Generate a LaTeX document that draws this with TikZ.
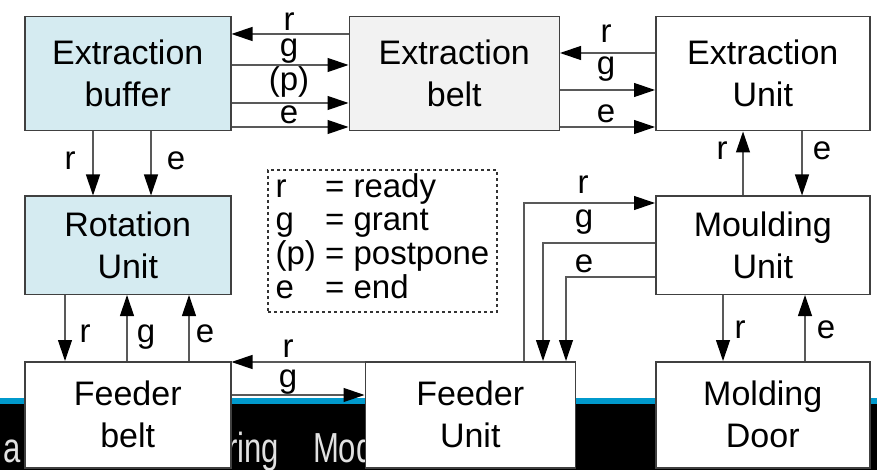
\documentclass[tikz,border=0pt]{standalone}
\usepackage{fontspec}
\setmainfont{Liberation Sans}
\usetikzlibrary{positioning,arrows.meta}
\usepackage{xcolor}
\definecolor{bufblue}{RGB}{213,235,241}
\definecolor{beltgray}{RGB}{242,242,242}
\definecolor{bandblue}{RGB}{0,153,204}
\definecolor{bandgray}{RGB}{225,225,225}

\begin{document}
\begin{tikzpicture}[
  x=1pt, y=-1pt,
  node distance=64pt and 117pt,
  blockbox/.style={rectangle, draw=black!75, line width=1.5pt, fill=white,
                   align=center, minimum width=206pt, minimum height=114pt,
                   inner sep=0pt, font=\fontsize{34}{42}\selectfont},
  arr/.style={-{Triangle[length=21pt,width=14pt,color=black]}, draw=black!65, line width=1.2pt},
  lbl/.style={anchor=base, inner sep=0pt, font=\fontsize{33}{33}\selectfont},
  keybox/.style={draw=black!80, dashed, line width=1.2pt, minimum width=229pt,
                 minimum height=142pt, inner sep=0pt, font=\fontsize{33}{33}\selectfont},
  bandtxt/.style={anchor=base west, inner sep=0pt, text=bandgray, font=\fontsize{42}{42}\selectfont}
]
\useasboundingbox (0,0) rectangle (877,470);
% slide band behind the lower row
\fill[black] (0,404) rectangle (877,470);
\fill[bandblue] (0,397.5) rectangle (877,404);
\node[bandtxt] (banda) at (3,462) {\scalebox{0.74}[1]{a}};
\node[bandtxt] (bandb) at (227,462) {\scalebox{0.74}[1]{ring\hspace{46pt}Mod}};

% blocks
\node[blockbox, fill=bufblue, anchor=north west] (xbuf) at (24,16) {Extraction\\buffer};
\node[blockbox, fill=beltgray, minimum width=210pt, right=117pt of xbuf] (xbelt) {Extraction\\belt};
\node[blockbox, minimum width=214pt, right=95pt of xbelt] (xunit) {Extraction\\Unit};
\node[blockbox, fill=bufblue, minimum height=98pt, below=64pt of xbuf] (rot) {Rotation\\Unit};
\node[blockbox, minimum width=214pt, minimum height=98pt, below=64pt of xunit] (mould) {Moulding\\Unit};
\node[blockbox, minimum height=106pt, below=66pt of rot] (fbelt) {Feeder\\belt};
\node[blockbox, minimum width=210pt, minimum height=106pt, right=133pt of fbelt] (funit) {Feeder\\Unit};
\node[blockbox, minimum width=214pt, minimum height=106pt, below=66pt of mould] (door) {Molding\\Door};

% extraction buffer <-> extraction belt
\draw[arr] (xbelt.west |- 0,34) -- (xbuf.east |- 0,34);
\draw[arr] (xbuf.east |- 0,65) -- (xbelt.west |- 0,65);
\draw[arr] (xbuf.east |- 0,103) -- (xbelt.west |- 0,103);
\draw[arr] (xbuf.east |- 0,127) -- (xbelt.west |- 0,127);
\node[lbl] (bbr) at (289,31) {r};
\node[lbl] (bbg) at (289,57) {g};
\node[lbl] (bbp) at (289,91) {(p)};
\node[lbl] (bbe) at (289,124) {e};

% extraction belt <-> extraction unit
\draw[arr] (xunit.west |- 0,53) -- (xbelt.east |- 0,53);
\draw[arr] (xbelt.east |- 0,90) -- (xunit.west |- 0,90);
\draw[arr] (xbelt.east |- 0,127) -- (xunit.west |- 0,127);
\node[lbl] (bur) at (606,43) {r};
\node[lbl] (bug) at (606,75) {g};
\node[lbl] (bue) at (606,123) {e};

% extraction buffer -> rotation unit
\draw[arr] (xbuf.south -| 93,0) -- (rot.north -| 93,0);
\draw[arr] (xbuf.south -| 151,0) -- (rot.north -| 151,0);
\node[lbl] (brr) at (70,170) {r};
\node[lbl] (bre) at (176,170) {e};

% rotation unit <-> feeder belt
\draw[arr] (rot.south -| 65,0) -- (fbelt.north -| 65,0);
\draw[arr] (fbelt.north -| 127,0) -- (rot.south -| 127,0);
\draw[arr] (fbelt.north -| 189,0) -- (rot.south -| 189,0);
\node[lbl] (rfr) at (85,342) {r};
\node[lbl] (rfg) at (146,342) {g};
\node[lbl] (rfe) at (205,342) {e};

% feeder belt <-> feeder unit
\draw[arr] (funit.west |- 0,362) -- (fbelt.east |- 0,362);
\draw[arr] (fbelt.east |- 0,395) -- (funit.west |- 0,395);
\node[lbl] (ffr) at (288,357) {r};
\node[lbl] (ffg) at (288,387) {g};

% extraction unit <-> moulding unit
\draw[arr] (mould.north -| 743,0) -- (xunit.south -| 743,0);
\draw[arr] (xunit.south -| 802,0) -- (mould.north -| 802,0);
\node[lbl] (umr) at (722,160) {r};
\node[lbl] (ume) at (822,160) {e};

% moulding unit <-> molding door
\draw[arr] (mould.south -| 723,0) -- (door.north -| 723,0);
\draw[arr] (door.north -| 805,0) -- (mould.south -| 805,0);
\node[lbl] (mdr) at (740,338) {r};
\node[lbl] (mde) at (826,338) {e};

% feeder unit <-> moulding unit
\draw[arr] (funit.north -| 524,0) |- (mould.west |- 0,203);
\draw[arr] (mould.west |- 0,243) -| (funit.north -| 543,0);
\draw[arr] (mould.west |- 0,277) -| (funit.north -| 566,0);
\node[lbl] (fmr) at (583,194) {r};
\node[lbl] (fmg) at (584,228) {g};
\node[lbl] (fme) at (584,272) {e};

% legend
\node[keybox] (key) at (382.5,241) {\begin{tabular}{@{}l@{ }l@{}}
r & = ready\\
g & = grant\\
(p) & = postpone\\
e & = end
\end{tabular}};
\end{tikzpicture}
\end{document}
